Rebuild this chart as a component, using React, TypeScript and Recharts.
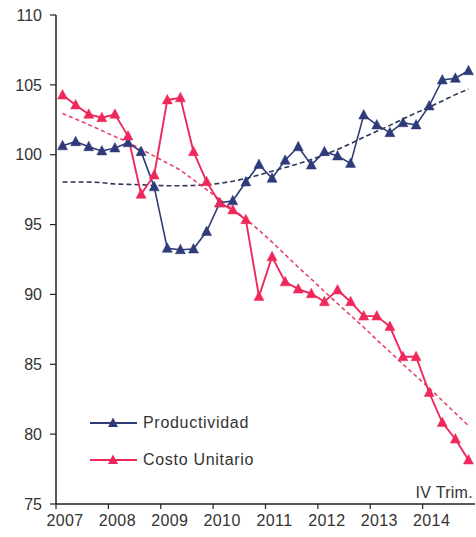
import React from 'react';
import { LineChart, Line, XAxis, YAxis } from 'recharts';

const years = ['2007', '2008', '2009', '2010', '2011', '2012', '2013', '2014'];
const quarterNames = ['I', 'II', 'III', 'IV'];
const yTicks = [75, 80, 85, 90, 95, 100, 105, 110];

const productividad = [
  100.64, 100.93, 100.57, 100.27, 100.48, 100.86, 100.22, 97.7,
  93.3, 93.2, 93.25, 94.5, 96.55, 96.7, 98.05, 99.3,
  98.31, 99.6, 100.57, 99.26, 100.22, 99.91, 99.38, 102.84,
  102.13, 101.58, 102.29, 102.13, 103.49, 105.35, 105.47, 106.01,
];

const costoUnitario = [
  104.27, 103.56, 102.89, 102.65, 102.89, 101.34, 97.17, 98.55,
  103.92, 104.08, 100.22, 98.07, 96.55, 96.05, 95.35, 89.85,
  92.7, 90.9, 90.38, 90.05, 89.48, 90.32, 89.48, 88.45,
  88.45, 87.7, 85.54, 85.54, 82.98, 80.83, 79.65, 78.15,
];

const tendenciaProductividad = [
  98.05, 98.05, 98.05, 98.0, 97.9, 97.88, 97.85, 97.8,
  97.78, 97.78, 97.8, 97.85, 97.95, 98.1, 98.3, 98.55,
  98.82, 99.08, 99.35, 99.65, 100.0, 100.38, 100.8, 101.25,
  101.68, 102.1, 102.55, 103.0, 103.4, 103.85, 104.3, 104.7,
];

const tendenciaCosto = [
  102.95, 102.55, 102.15, 101.73, 101.3, 100.9, 100.4, 99.9,
  99.4, 98.9, 98.2, 97.5, 96.8, 96.1, 95.4, 94.6,
  93.75, 92.85, 91.95, 91.1, 90.2, 89.35, 88.5, 87.65,
  86.75, 85.9, 85.0, 84.15, 83.3, 82.4, 81.5, 80.6,
];

const NAVY = '#2F3A78';
const RED = '#EF285B';
const NAVY_TREND = '#2B3556';
const RED_TREND = '#E5436A';
const FONT = '"Liberation Sans", Arial, sans-serif';

const data = productividad.map((v, i) => ({
  x: i + 0.5,
  periodo: `${years[Math.floor(i / 4)]} ${quarterNames[i % 4]}`,
  prod: v,
  costo: costoUnitario[i],
  tProd: tendenciaProductividad[i],
  tCosto: tendenciaCosto[i],
}));

const xTicks = years.map((_, i) => i * 4);

const triangle = (color: string) => (props: any) => {
  const { cx, cy, index } = props;
  if (cx == null || cy == null) return <g key={`n-${index}`} />;
  return (
    <polygon
      key={`t-${color}-${index}`}
      points={`${cx},${cy - 5.5} ${cx - 5},${cy + 4} ${cx + 5},${cy + 4}`}
      fill={color}
      stroke={color}
      strokeWidth={0.5}
    />
  );
};

const XTick = (props: any) => {
  const { x, y, payload } = props;
  const label = years[Math.round(payload.value / 4)];
  return (
    <text
      x={x + 9}
      y={y + 15}
      textAnchor="middle"
      fill="#333"
      fontSize={16}
      fontFamily={FONT}
      style={{ letterSpacing: '0.4px' }}
    >
      {label}
    </text>
  );
};

const legendItems = [
  { name: 'Productividad', color: NAVY },
  { name: 'Costo Unitario', color: RED },
];

export default function App() {
  return (
    <div
      style={{
        position: 'absolute',
        left: 0,
        top: 0,
        width: 476,
        height: 537,
        background: '#fff',
        overflow: 'hidden',
      }}
    >
      <LineChart
        width={476}
        height={537}
        data={data}
        margin={{ top: 15, right: 1, bottom: 3, left: 0 }}
      >
        <XAxis
          dataKey="x"
          type="number"
          domain={[0, 32]}
          ticks={xTicks}
          interval={0}
          height={30}
          tick={<XTick />}
          tickSize={5}
          axisLine={{ stroke: '#222', strokeWidth: 1.5 }}
          tickLine={{ stroke: '#222', strokeWidth: 1.2 }}
          allowDataOverflow
        />
        <YAxis
          type="number"
          domain={[75, 110]}
          ticks={yTicks}
          interval={0}
          width={56}
          tickSize={6}
          tickMargin={8}
          axisLine={{ stroke: '#222', strokeWidth: 1.5 }}
          tickLine={{ stroke: '#222', strokeWidth: 1.2 }}
          tick={{ fill: '#333', fontSize: 16, fontFamily: FONT }}
          allowDataOverflow
        />
        <Line
          dataKey="tProd"
          stroke={NAVY_TREND}
          strokeWidth={1.6}
          strokeDasharray="5 3"
          dot={false}
          activeDot={false}
          isAnimationActive={false}
          type="linear"
        />
        <Line
          dataKey="tCosto"
          stroke={RED_TREND}
          strokeWidth={1.6}
          strokeDasharray="4 3"
          dot={false}
          activeDot={false}
          isAnimationActive={false}
          type="linear"
        />
        <Line
          dataKey="prod"
          name="Productividad"
          stroke={NAVY}
          strokeWidth={1.6}
          dot={triangle(NAVY)}
          activeDot={false}
          isAnimationActive={false}
          type="linear"
        />
        <Line
          dataKey="costo"
          name="Costo Unitario"
          stroke={RED}
          strokeWidth={1.9}
          dot={triangle(RED)}
          activeDot={false}
          isAnimationActive={false}
          type="linear"
        />
      </LineChart>
      <div
        style={{
          position: 'absolute',
          left: 88,
          top: 404,
          fontFamily: FONT,
        }}
      >
        {legendItems.map((it) => (
          <div
            key={it.name}
            style={{ display: 'flex', alignItems: 'center', height: 37 }}
          >
            <svg width={50} height={14} style={{ display: 'block' }}>
              <line x1={2} y1={7} x2={49} y2={7} stroke={it.color} strokeWidth={1.8} />
              <polygon points="25,1.5 20,11 30,11" fill={it.color} />
            </svg>
            <span
              style={{
                marginLeft: 5,
                fontSize: 16,
                color: '#333',
                letterSpacing: '0.7px',
                whiteSpace: 'nowrap',
              }}
            >
              {it.name}
            </span>
          </div>
        ))}
      </div>
      <div
        style={{
          position: 'absolute',
          right: 3,
          top: 484,
          fontFamily: FONT,
          fontSize: 16,
          color: '#333',
          letterSpacing: '0.3px',
          lineHeight: '18px',
        }}
      >
        IV Trim.
      </div>
    </div>
  );
}
